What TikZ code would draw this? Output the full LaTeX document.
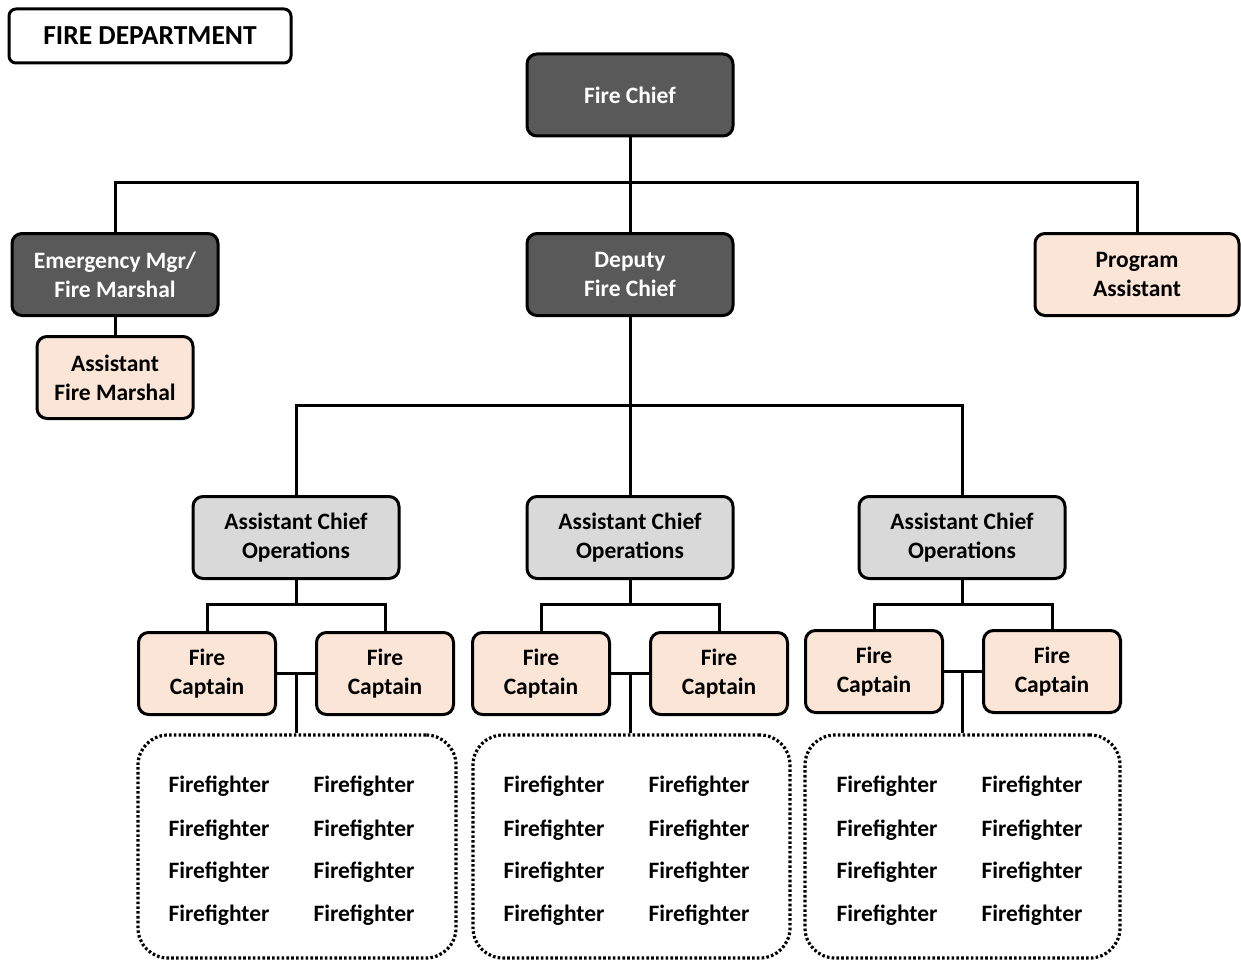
\documentclass[tikz,border=0pt]{standalone}
\usepackage{fontspec}
\setmainfont{Carlito}
\begin{document}
\begin{tikzpicture}[x=1pt,y=-1pt,
  every node/.style={font=\bfseries\fontsize{23.5}{29}\selectfont, align=center},
  box/.style={draw=black, line width=3pt, rounded corners=10pt, minimum width=#1, minimum height=82pt, inner sep=0pt},
  dark/.style={box=206pt, fill=darkbox, text=white},
  peach/.style={box=#1, fill=peachbox, text=black},
  aco/.style={box=206pt, fill=grayboxc, text=black},
  captainbox/.style={box=137pt, fill=peachbox, text=black},
  ffbox/.style={draw=black, line width=3.2pt, dash pattern=on 2.6pt off 2.2pt, rounded corners=30pt, minimum width=#1, minimum height=223pt, inner sep=0pt},
  ff/.style={inner sep=0pt},
  conn/.style={draw=black, line width=3pt},
]
\definecolor{darkbox}{HTML}{595959}
\definecolor{peachbox}{HTML}{FBE5D6}
\definecolor{grayboxc}{HTML}{D9D9D9}
\useasboundingbox (0,0) rectangle (1241,960);

\node[draw=black, line width=3pt, rounded corners=7pt, minimum width=282pt, minimum height=54pt, inner sep=0pt, font=\bfseries\fontsize{27.5}{32}\selectfont] (title) at (150,36) {FIRE DEPARTMENT};

\node[dark] (chief) at (630,95) {Fire Chief};
\node[dark] (em) at (115,274.5) {Emergency Mgr/\\Fire Marshal};
\node[dark] (deputy) at (630,274.5) {Deputy\\Fire Chief};
\node[peach=204pt] (pa) at (1137,274.5) {Program\\Assistant};
\node[peach=156pt] (afm) at (115,377.5) {Assistant\\Fire Marshal};

\node[aco] (aco1) at (296,537.5) {Assistant Chief\\Operations};
\node[aco] (aco2) at (630,537.5) {Assistant Chief\\Operations};
\node[aco] (aco3) at (962,537.5) {Assistant Chief\\Operations};

\node[captainbox] (c1a) at (207,673.5) {Fire\\Captain};
\node[captainbox] (c1b) at (385,673.5) {Fire\\Captain};
\node[captainbox] (c2a) at (541,673.5) {Fire\\Captain};
\node[captainbox] (c2b) at (719,673.5) {Fire\\Captain};
\node[captainbox] (c3a) at (874,671.5) {Fire\\Captain};
\node[captainbox] (c3b) at (1052,671.5) {Fire\\Captain};

\node[ffbox=318pt] (ff1) at (297,846.5) {};
\node[ffbox=317pt] (ff2) at (631.5,846.5) {};
\node[ffbox=315pt] (ff3) at (962.5,846.5) {};

\foreach \g/\xa/\xb in {1/219/364, 2/554/699, 3/887/1032} {
  \foreach \r/\yy in {1/786.5, 2/830.5, 3/872.5, 4/915.5} {
    \node[ff] (f\g a\r) at (\xa,\yy) {Firefighter};
    \node[ff] (f\g b\r) at (\xb,\yy) {Firefighter};
  }
}

\coordinate (bus1) at (630,183);
\coordinate (bus2) at (630,405);
\coordinate (b1) at (296,604);
\coordinate (b2) at (630,604);
\coordinate (b3) at (962,604);

\draw[conn] (chief.south) -- (deputy.north);
\draw[conn] (em.north) |- (bus1) -| (pa.north);
\draw[conn] (em.south) -- (afm.north);
\draw[conn] (deputy.south) -- (bus2);
\draw[conn] (aco1.north) |- (bus2) -| (aco3.north);
\draw[conn] (bus2) -- (aco2.north);

\draw[conn] (aco1.south) -- (b1);
\draw[conn] (c1a.north) |- (b1) -| (c1b.north);
\draw[conn] (aco2.south) -- (b2);
\draw[conn] (c2a.north) |- (b2) -| (c2b.north);
\draw[conn] (aco3.south) -- (b3);
\draw[conn] (c3a.north) |- (b3) -| (c3b.north);

\draw[conn] (c1a.east) -- (c1b.west);
\draw[conn] (ff1.north -| 296,0) -- (296,673.5);
\draw[conn] (c2a.east) -- (c2b.west);
\draw[conn] (ff2.north -| 630,0) -- (630,673.5);
\draw[conn] (c3a.east) -- (c3b.west);
\draw[conn] (ff3.north -| 962,0) -- (962,671.5);
\end{tikzpicture}
\end{document}
